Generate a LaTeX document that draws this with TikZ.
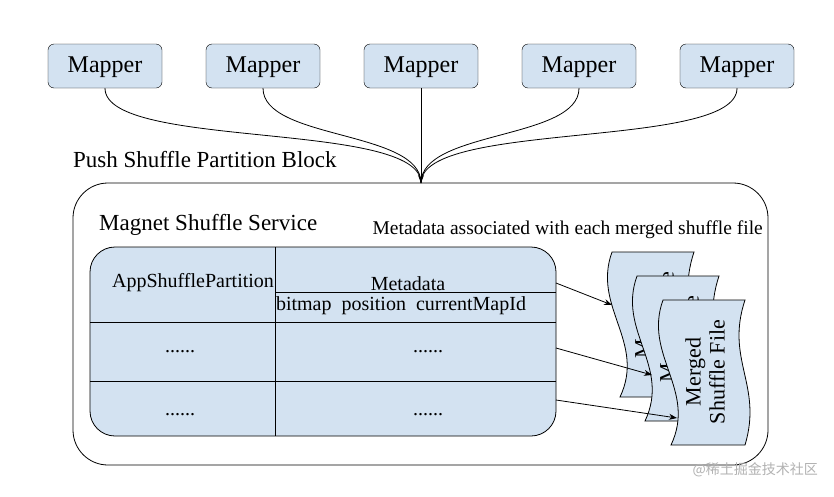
\documentclass[tikz,border=0pt]{standalone}
\usepackage{fontspec}
\setmainfont{Liberation Serif}
\newfontfamily\cjk{Noto Sans CJK SC}
\usetikzlibrary{arrows.meta}
\definecolor{fillb}{HTML}{D3E2F1}
\begin{document}
\begin{tikzpicture}[x=1pt,y=-1pt,
  mapper/.style={draw,rounded corners=6pt,fill=fillb,minimum width=114pt,minimum height=44pt,font=\fontsize{24}{28}\selectfont,inner sep=0},
  lbl/.style={inner sep=0,font=\fontsize{20}{24}\selectfont},
  conn/.style={line width=0.8pt},
  arr/.style={line width=0.8pt,-{Stealth[length=8pt,width=6pt]}},
  doc/.style={draw,fill=fillb,line width=0.8pt}]
\useasboundingbox (0,0) rectangle (834,496);
\fill[white] (0,0) rectangle (834,496);
\foreach \i/\x in {1/105,2/263,3/421,4/579,5/737}
  \node[mapper,text depth=0pt,text height=12pt] (m\i) at (\x,66) {Mapper};
\coordinate (j) at (421,183);
\draw[conn] (m1.south) .. controls (105,150) and (421,120) .. (j);
\draw[conn] (m2.south) .. controls (263,140) and (421,130) .. (j);
\draw[arr] (m3.south) -- (j);
\draw[conn] (m4.south) .. controls (579,140) and (421,130) .. (j);
\draw[conn] (m5.south) .. controls (737,150) and (421,120) .. (j);
\node[lbl,anchor=west,font=\fontsize{23}{26}\selectfont] (pspb) at (73,160) {Push Shuffle Partition Block};
\draw[line width=0.8pt,rounded corners=35pt] (73,183) rectangle (768,465);
\node[lbl,anchor=west,font=\fontsize{23}{26}\selectfont] (mss) at (99,225) {Magnet Shuffle Service};
\node[lbl,anchor=east,font=\fontsize{19.5}{23}\selectfont] (meta) at (763,230) {Metadata associated with each merged shuffle file};
% table
\draw[line width=0.8pt,fill=fillb,rounded corners=25pt] (90,247) rectangle (556,436);
\draw[line width=0.8pt] (275,247) -- (275,436) (90,322) -- (556,322) (90,381) -- (556,381) (275,292) -- (556,292);
\node[lbl] (asp) at (193,283) {AppShufflePartition};
\node[lbl] (md) at (408,284) {Metadata};
\node[lbl] (bp) at (401,306) {bitmap\ \ position\ \ currentMapId};
\node[lbl] (d1) at (180,352) {......};
\node[lbl] (d2) at (428,352) {......};
\node[lbl] (d3) at (180,415) {......};
\node[lbl] (d4) at (428,415) {......};
% documents
\foreach \k/\dx/\dy in {1/612/252,2/637/276,3/663/300}{
  \begin{scope}[shift={(\dx,\dy)}]
  \draw[doc] (0,0) -- (82,0) .. controls (62,60) and (100,85) .. (82,145) -- (8,145)
     .. controls (34,90) and (-20,55) .. (0,0) -- cycle;
  \node[lbl,rotate=90,align=center,font=\fontsize{22}{24}\selectfont] (doc\k) at (42,72) {Merged\\Shuffle File};
  \end{scope}}
\coordinate (t1) at (612,305);
\coordinate (t2) at (652,375);
\coordinate (t3) at (677,418);
\draw[arr] (556,283) -- (t1);
\draw[arr] (556,348) -- (t2);
\draw[arr] (556,400) -- (t3);
\node[anchor=east,text=gray!60,font=\cjk\fontsize{14}{16}\selectfont,inner sep=0] (wm) at (818,470) {@稀土掘金技术社区};
\end{tikzpicture}
\end{document}
